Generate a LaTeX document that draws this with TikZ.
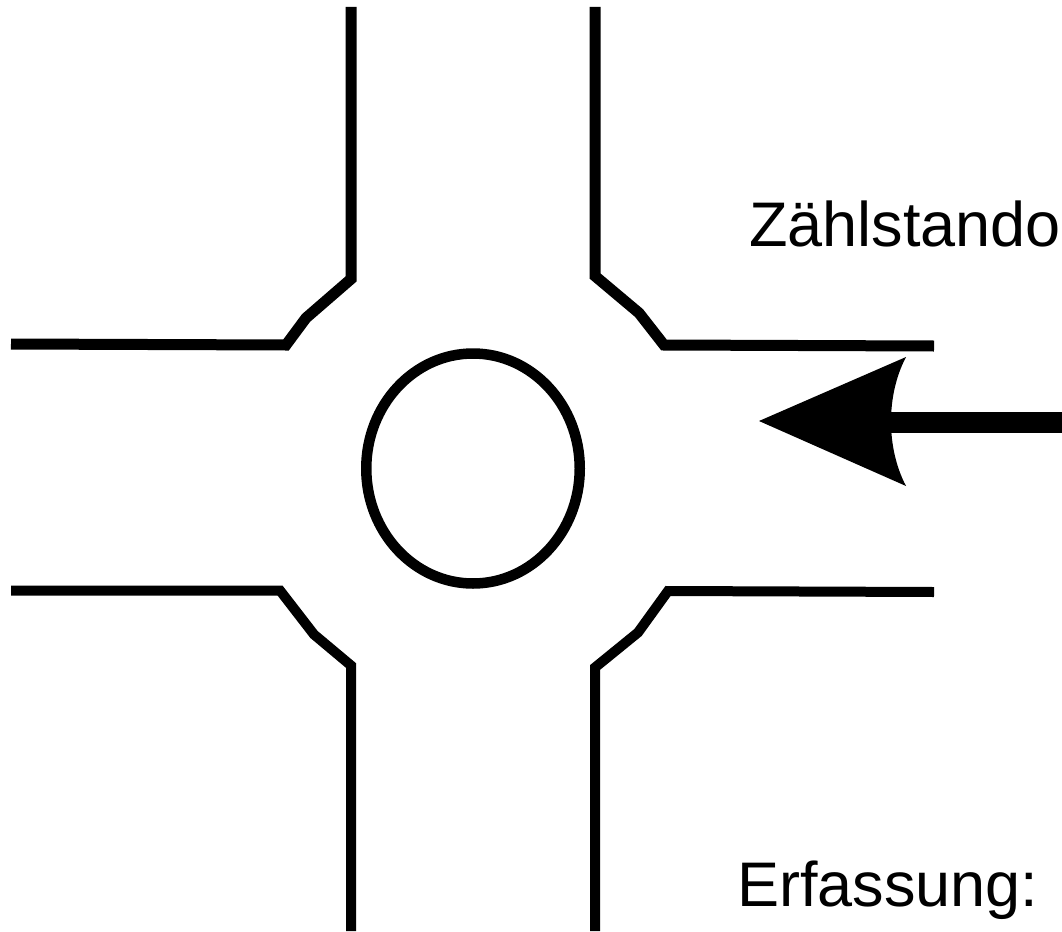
\documentclass[tikz,border=0pt]{standalone}
\usepackage{fontspec}
\setmainfont{Liberation Sans}
\tikzset{road/.style={line width=11pt,line join=miter},roadthin/.style={line width=10pt,line join=miter},lab/.style={anchor=base west,inner sep=0pt,font=\fontsize{63}{70}\selectfont}}
\begin{document}
\begin{tikzpicture}[x=1pt,y=-1pt]
\useasboundingbox (0,0) rectangle (1062,931);
\draw[road] (351,7) -- (351,279) -- (306,318) -- (286,345) -- (11,344);
\draw[road] (595,7) -- (595,276) -- (639,313) -- (664,345) -- (934,346);
\draw[roadthin] (11,590.5) -- (280,590.5) -- (314,634.5) -- (351,665.5) -- (351,931);
\draw[roadthin] (934,592) -- (668,591) -- (638,632.5) -- (595,667.5) -- (595,931);
\draw[line width=10.5pt] (473,468.5) ellipse (106.75 and 115);
\draw[line width=21pt] (885,422) -- (1062,422);
\fill (759,421) -- (906,357) .. controls (886,395) and (886,448) .. (906,486) -- cycle;
\node[lab] (z) at (749,246) {Zählstando};
\node[lab] (e) at (737,906) {Erfassung:};
\end{tikzpicture}
\end{document}
